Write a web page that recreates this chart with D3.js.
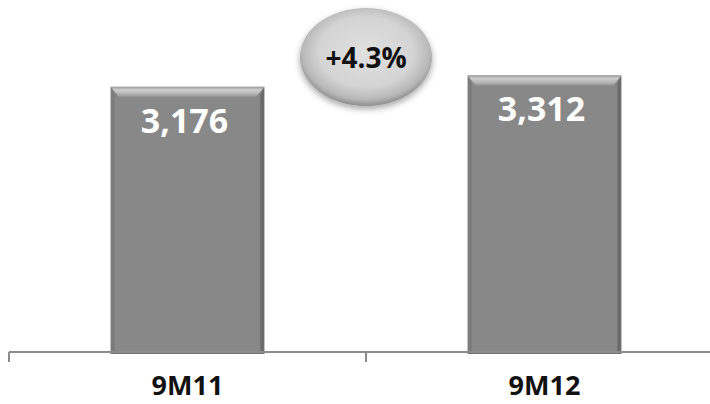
<!DOCTYPE html>
<html>
<head>
<meta charset="utf-8">
<script src="https://cdn.jsdelivr.net/npm/d3@7"></script>
<style>
  html, body { margin: 0; padding: 0; background: #fff; }
  svg { display: block; }
</style>
</head>
<body>
<svg id="chart" width="710" height="404"></svg>
<script>
// Period labels and values
const categories = ["9M11", "9M12"];
const values = [3176, 3312];
const valueLabels = ["3,176", "3,312"];
const growthLabel = "+4.3%";

const W = 710, H = 404;
const svg = d3.select("#chart");

const baseY = 352;
const x = d3.scaleBand()
  .domain(categories)
  .range([9, 723])
  .paddingInner(0.57)
  .paddingOuter(0.285);
const y = d3.scaleLinear().domain([0, 4000]).range([baseY, 18]);

const defs = svg.append("defs");

// Gradient for the top bevel of each bar
const topGrad = defs.append("linearGradient")
  .attr("id", "bevelTop").attr("x1", 0).attr("y1", 0).attr("x2", 0).attr("y2", 1);
topGrad.append("stop").attr("offset", "0%").attr("stop-color", "#9c9c9c");
topGrad.append("stop").attr("offset", "30%").attr("stop-color", "#cdcdcd");
topGrad.append("stop").attr("offset", "70%").attr("stop-color", "#b4b4b4");
topGrad.append("stop").attr("offset", "100%").attr("stop-color", "#959595");

// Bubble fill and shadow
const bubbleGrad = defs.append("radialGradient")
  .attr("id", "bubbleFill").attr("cx", "50%").attr("cy", "45%").attr("r", "55%");
bubbleGrad.append("stop").attr("offset", "0%").attr("stop-color", "#e0e0e0");
bubbleGrad.append("stop").attr("offset", "65%").attr("stop-color", "#d4d4d4");
bubbleGrad.append("stop").attr("offset", "88%").attr("stop-color", "#b8b8b8");
bubbleGrad.append("stop").attr("offset", "100%").attr("stop-color", "#8e8e8e");

const shadow = defs.append("filter").attr("id", "softShadow")
  .attr("x", "-30%").attr("y", "-30%").attr("width", "160%").attr("height", "170%");
shadow.append("feDropShadow")
  .attr("dx", 0).attr("dy", 3).attr("stdDeviation", 3)
  .attr("flood-color", "#000").attr("flood-opacity", 0.35);

// Bars with bevelled edges
const bev = 8;
const bars = svg.append("g").selectAll("g.bar")
  .data(categories.map((c, i) => ({ c, v: values[i], label: valueLabels[i] })))
  .join("g").attr("class", "bar");

bars.each(function(d) {
  const g = d3.select(this);
  const x0 = x(d.c), w = x.bandwidth(), x1 = x0 + w;
  const yt = y(d.v), yb = y(0) + 2;
  g.append("rect").attr("x", x0).attr("y", yt).attr("width", w).attr("height", yb - yt)
    .attr("fill", "#888888");
  // left face
  g.append("path")
    .attr("d", `M${x0},${yt} L${x0 + bev / 2},${yt + bev} L${x0 + bev / 2},${yb - 2} L${x0},${yb} Z`)
    .attr("fill", "#7b7b7b");
  // right face
  g.append("path")
    .attr("d", `M${x1},${yt} L${x1 - bev / 2},${yt + bev} L${x1 - bev / 2},${yb - 2} L${x1},${yb} Z`)
    .attr("fill", "#6c6c6c");
  // bottom edge
  g.append("rect").attr("x", x0).attr("y", yb - 2).attr("width", w).attr("height", 2)
    .attr("fill", "#707070");
  // top bevel
  g.append("path")
    .attr("d", `M${x0},${yt} L${x1},${yt} L${x1 - bev},${yt + bev + 2} L${x0 + bev},${yt + bev + 2} Z`)
    .attr("fill", "url(#bevelTop)");
  // value label
  g.append("text")
    .attr("x", x0 + w / 2 - 3)
    .attr("y", yt + 46)
    .attr("text-anchor", "middle")
    .attr("font-family", "'Open Sans', sans-serif")
    .attr("font-weight", 700)
    .attr("font-size", 34)
    .attr("fill", "#ffffff")
    .text(d.label);
});

// Category axis
const axis = svg.append("g");
const ticks = [x.range()[0], x(categories[1]) - x.step() * x.paddingInner() / 2, x.range()[1]];
axis.append("line")
  .attr("x1", x.range()[0]).attr("x2", W)
  .attr("y1", baseY).attr("y2", baseY)
  .attr("stroke", "#8c8c8c").attr("stroke-width", 2);
axis.selectAll("line.tick").data(ticks).join("line").attr("class", "tick")
  .attr("x1", d => d).attr("x2", d => d)
  .attr("y1", baseY).attr("y2", baseY + 10)
  .attr("stroke", "#8c8c8c").attr("stroke-width", 2);
axis.selectAll("text").data(categories).join("text")
  .attr("x", d => x(d) + x.bandwidth() / 2)
  .attr("y", 395)
  .attr("text-anchor", "middle")
  .attr("font-family", "'Open Sans', sans-serif")
  .attr("font-weight", 700)
  .attr("font-size", 27)
  .attr("fill", "#111")
  .text(d => d);

// Growth bubble between the bars
const bx = ticks[1], by = 57;
const bubble = svg.append("g");
bubble.append("ellipse")
  .attr("cx", bx).attr("cy", by).attr("rx", 66).attr("ry", 49)
  .attr("fill", "url(#bubbleFill)")
  .attr("filter", "url(#softShadow)");
bubble.append("text")
  .attr("x", bx).attr("y", by + 11)
  .attr("text-anchor", "middle")
  .attr("font-family", "'Open Sans', sans-serif")
  .attr("font-weight", 700)
  .attr("font-size", 28)
  .attr("fill", "#111")
  .text(growthLabel);
</script>
</body>
</html>
